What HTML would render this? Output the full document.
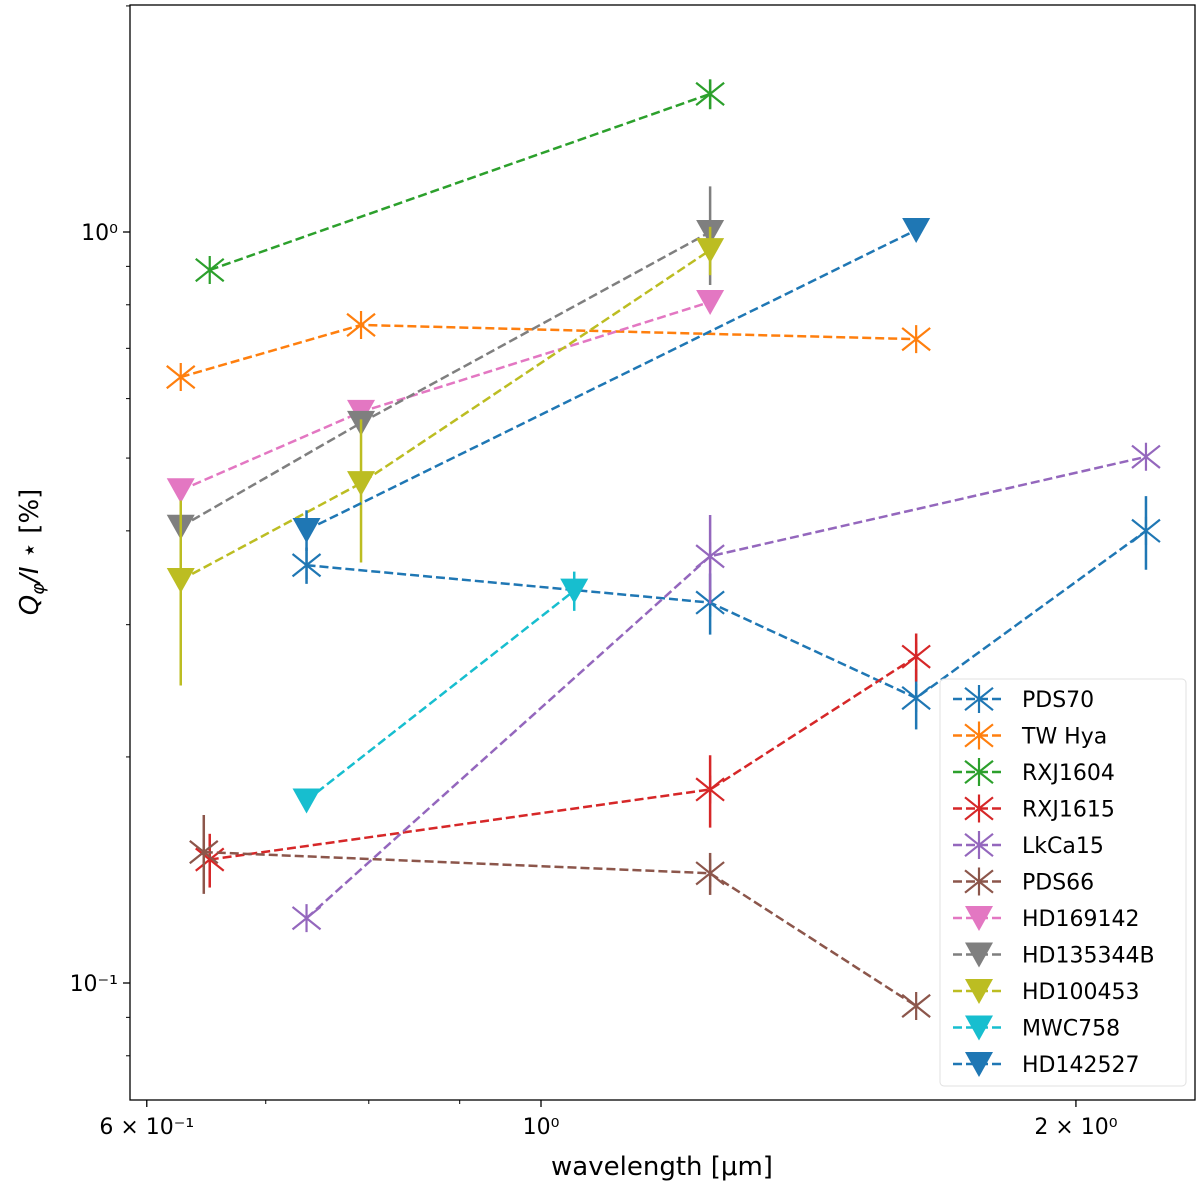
<!DOCTYPE html>
<html><head><meta charset="utf-8"><style>
body{margin:0;background:#fff}
svg{font-family:"DejaVu Sans","Liberation Sans",sans-serif}
</style></head><body>
<svg id="c" width="1200" height="1192"></svg>
<script>
const seriesNames=["PDS70","TW Hya","RXJ1604","RXJ1615","LkCa15","PDS66","HD169142","HD135344B","HD100453","MWC758","HD142527"];
const seriesColors=["#1f77b4","#ff7f0e","#2ca02c","#d62728","#9467bd","#8c564b","#e377c2","#7f7f7f","#bcbd22","#17becf","#1f77b4"];
const seriesMarkers=["x","x","x","x","x","x","v","v","v","v","v"];
const wlPDS70=[0.738,1.245,1.626,2.19], vPDS70=[0.360,0.321,0.2396,0.400], ePDS70=[0.02,0.03,0.022,0.045];
const wlTWHya=[0.627,0.792,1.626], vTWHya=[0.641,0.752,0.720], eTWHya=[0,0,0];
const wlRXJ1604=[0.651,1.245], vRXJ1604=[0.890,1.527], eRXJ1604=[0,0.07];
const wlRXJ1615=[0.651,1.245,1.626], vRXJ1615=[0.146,0.181,0.272], eRXJ1615=[0.012,0.02,0.02];
const wlLkCa15=[0.738,1.245,2.19], vLkCa15=[0.122,0.370,0.502], eLkCa15=[0,0.05,0];
const wlPDS66=[0.646,1.245,1.626], vPDS66=[0.1494,0.140,0.0932], ePDS66=[0.018,0.009,0];
const wlHD169142=[0.627,0.792,1.245], vHD169142=[0.453,0.576,0.807], eHD169142=[0,0,0];
const wlHD135344B=[0.627,0.792,1.245], vHD135344B=[0.405,0.557,1.0], eHD135344B=[0,0,0.15];
const wlHD100453=[0.627,0.792,1.245], vHD100453=[0.344,0.463,0.946], eHD100453=[0.095,0.1,0.07];
const wlMWC758=[0.738,1.044], vMWC758=[0.175,0.333], eMWC758=[0,0.02];
const wlHD142527=[0.738,1.626], vHD142527=[0.401,1.006], eHD142527=[0.025,0];
const allX=[wlPDS70,wlTWHya,wlRXJ1604,wlRXJ1615,wlLkCa15,wlPDS66,wlHD169142,wlHD135344B,wlHD100453,wlMWC758,wlHD142527];
const allY=[vPDS70,vTWHya,vRXJ1604,vRXJ1615,vLkCa15,vPDS66,vHD169142,vHD135344B,vHD100453,vMWC758,vHD142527];
const allE=[ePDS70,eTWHya,eRXJ1604,eRXJ1615,eLkCa15,ePDS66,eHD169142,eHD135344B,eHD100453,eMWC758,eHD142527];
const xMajorTicks=[0.6,1,2], xTickLabels=["6 × 10⁻¹","10⁰","2 × 10⁰"], xMinorTicks=[0.7,0.8,0.9];
const yMajorTicks=[1,0.1], yTickLabels=["10⁰","10⁻¹"], yMinorTicks=[0.08,0.09,0.2,0.3,0.4,0.5,0.6,0.7,0.8,0.9,2];

const L=130,R=1195,T=5,B=1100;
const xs=v=>541+Math.log10(v)*1777;
const ys=v=>232-Math.log10(v)*751;
const svg=document.getElementById('c');const NS="http://www.w3.org/2000/svg";
function mk(t,a,p){const e=document.createElementNS(NS,t);for(const k in a)e.setAttribute(k,a[k]);(p||svg).appendChild(e);return e;}
const clip=mk('clipPath',{id:'cl'});mk('rect',{x:L,y:T,width:R-L,height:B-T},clip);
function marker(g,type,x,y,c){
 if(type==='v'){mk('path',{d:`M${x-14},${y-12}L${x+14},${y-12}L${x},${y+13}Z`,fill:c},g);}
 else{const d=14;mk('path',{d:`M${x-d},${y-d*0.8}L${x+d},${y+d*0.8}M${x-d},${y+d*0.8}L${x+d},${y-d*0.8}M${x},${y-d}L${x},${y+d}`,stroke:c,'stroke-width':2.2,fill:'none'},g);}
}
const plot=mk('g',{'clip-path':'url(#cl)'});

for(let i=0;i<seriesNames.length;i++){
 const g=mk('g',{},plot);
 
 
 const c=seriesColors[i];
 mk('polyline',{points:allX[i].map((x,j)=>xs(x)+','+ys(allY[i][j])).join(' '),fill:'none',stroke:c,'stroke-width':2.5,'stroke-dasharray':'9,4'},g);
 allX[i].forEach((x,j)=>{const e=allE[i][j];if(e>0)mk('line',{x1:xs(x),x2:xs(x),y1:ys(allY[i][j]+e),y2:ys(Math.max(allY[i][j]-e,0.01)),stroke:c,'stroke-width':2.5},g);});
 allX[i].forEach((x,j)=>marker(g,seriesMarkers[i],xs(x),ys(allY[i][j]),c));
}
const ax=mk('rect',{x:L,y:T,width:R-L,height:B-T,fill:'none',stroke:'#000','stroke-width':1.3});

xMajorTicks.forEach((v,i)=>{mk('line',{x1:xs(v),x2:xs(v),y1:B,y2:B+7,stroke:'#000','stroke-width':1.3});
 const t=mk('text',{x:xs(v),y:B+34,'text-anchor':'middle','font-size':22});t.textContent=xTickLabels[i];
 });
xMinorTicks.forEach(v=>mk('line',{x1:xs(v),x2:xs(v),y1:B,y2:B+4,stroke:'#000','stroke-width':1}));
yMajorTicks.forEach((v,i)=>{mk('line',{x1:L,x2:L-7,y1:ys(v),y2:ys(v),stroke:'#000','stroke-width':1.3});
 const t=mk('text',{x:L-12,y:ys(v)+8,'text-anchor':'end','font-size':22});t.textContent=yTickLabels[i];
 });
yMinorTicks.forEach(v=>{const y=ys(v);if(y>T&&y<B)mk('line',{x1:L,x2:L-4,y1:y,y2:y,stroke:'#000','stroke-width':1});});
let t=mk('text',{x:662,y:1175,'text-anchor':'middle','font-size':26});t.textContent='wavelength [μm]';

t=mk('text',{x:0,y:0,'text-anchor':'middle','font-size':26,transform:'translate(38,552) rotate(-90)'});
t.innerHTML='<tspan font-style="italic">Q</tspan><tspan font-size="18" dy="6" font-style="italic">φ</tspan><tspan dy="-6" font-style="italic">/I</tspan> ⋆ [%]';

const lg=mk('g',{});
mk('rect',{x:940,y:679,width:246,height:407,rx:4,fill:'#fff','fill-opacity':0.8,stroke:'#e0e0e0'},lg);
seriesNames.forEach((n,i)=>{const y=699+i*36.5;const g=mk('g',{},lg);
 
 mk('line',{x1:953,x2:1005,y1:y,y2:y,stroke:seriesColors[i],'stroke-width':2.5,'stroke-dasharray':'9,4'},g);
 marker(g,seriesMarkers[i],979,y,seriesColors[i]);
 const tt=mk('text',{x:1022,y:y+8,'font-size':22},g);tt.textContent=n;});
</script>
</body></html>
